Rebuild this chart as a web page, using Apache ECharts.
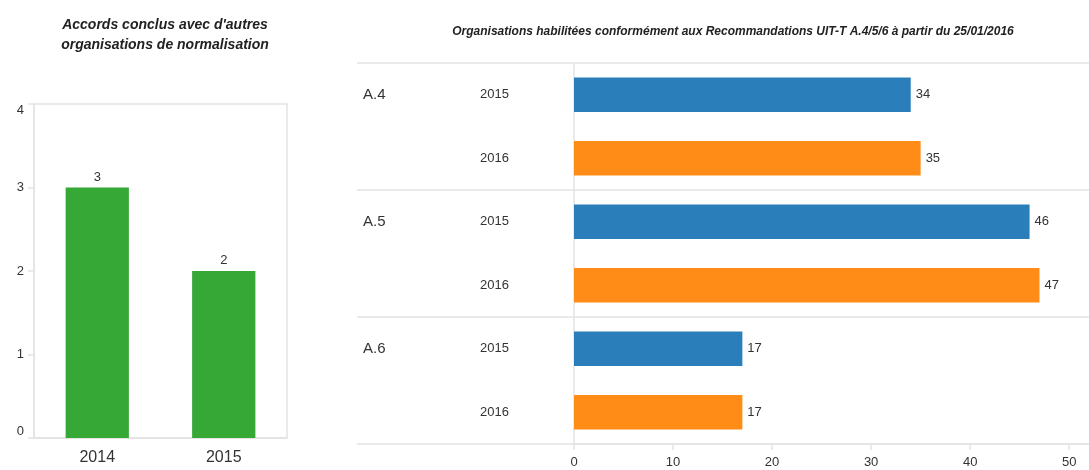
<!DOCTYPE html>
<html>
<head>
<meta charset="utf-8">
<script src="https://cdn.jsdelivr.net/npm/echarts@6/dist/echarts.min.js"></script>
<style>
  html, body { margin: 0; padding: 0; background: #fff; }
  #main { width: 1089px; height: 470px; }
</style>
</head>
<body>
<div id="main"></div>
<script>
// left chart data
var accordYears = ['2014', '2015'];
var accordValues = [3, 2];

// right chart data
var groups = ['A.4', 'A.5', 'A.6'];
var years = ['2015', '2016'];
var orgValues = [34, 35, 46, 47, 17, 17];   // A.4 2015, A.4 2016, A.5 2015, ...
var xTicks = [0, 10, 20, 30, 40, 50];

var yearColors = ['#2a7fba', '#ff8c17'];
var lineColor = '#e3e3e3';
var textColor = '#333';
var font = 'Liberation Sans';

// one row per group/year pair
var rowKeys = [];
groups.forEach(function (g) {
  years.forEach(function (y) { rowKeys.push(g + '|' + y); });
});

var myChart = echarts.init(document.getElementById('main'));

var option = {
  animation: false,
  textStyle: { fontFamily: font },
  title: [{
    text: "Accords conclus avec d'autres\norganisations de normalisation",
    left: 160, top: 10, textAlign: 'center',
    textStyle: { fontSize: 14, fontWeight: 'bold', fontStyle: 'italic', color: '#222', lineHeight: 20, fontFamily: font }
  }, {
    text: 'Organisations habilitées conformément aux Recommandations UIT-T A.4/5/6 à partir du 25/01/2016',
    left: 728, top: 21, textAlign: 'center',
    textStyle: { fontSize: 12, fontWeight: 'bold', fontStyle: 'italic', color: '#222', fontFamily: font }
  }],
  grid: [
    { left: 34, right: 802, top: 104, bottom: 32, show: true, borderColor: lineColor, borderWidth: 1.5 },
    { left: 574, right: -2, top: 63, bottom: 26 }
  ],
  xAxis: [{
    gridIndex: 0,
    type: 'category',
    data: accordYears,
    axisLine: { lineStyle: { color: lineColor, width: 1.5 } },
    axisTick: { length: 6, lineStyle: { color: lineColor, width: 1.5 } },
    axisLabel: { fontSize: 16, color: textColor, margin: 12 }
  }, {
    gridIndex: 1,
    type: 'value',
    min: 0,
    max: 52,
    interval: 10,
    splitLine: { show: false },
    axisLine: { show: true, lineStyle: { color: lineColor, width: 1.5 } },
    axisTick: { show: true, length: 6, customValues: xTicks, lineStyle: { color: lineColor, width: 1.5 } },
    axisLabel: { fontSize: 13, color: textColor, margin: 12, customValues: xTicks }
  }],
  yAxis: [{
    gridIndex: 0,
    type: 'value',
    min: 0, max: 4, interval: 1,
    splitLine: { show: false },
    axisLine: { show: true, lineStyle: { color: lineColor, width: 1.5 } },
    axisTick: { show: true, length: 6, lineStyle: { color: lineColor, width: 1.5 } },
    axisLabel: { fontSize: 13, color: textColor, margin: 10, verticalAlignMinLabel: 'bottom', verticalAlignMaxLabel: 'top' }
  }, {
    gridIndex: 1,
    type: 'category',
    position: 'left',
    inverse: true,
    data: rowKeys,
    axisLine: { show: false },
    axisTick: { show: false },
    axisLabel: {
      fontSize: 13, color: textColor, margin: 65,
      formatter: function (v) { return v.split('|')[1]; }
    }
  }, {
    gridIndex: 1,
    type: 'category',
    position: 'left',
    inverse: true,
    data: groups,
    axisLine: { show: true, lineStyle: { color: lineColor, width: 1.5 } },
    axisTick: { show: true, length: 217, lineStyle: { color: lineColor, width: 1.5 } },
    splitLine: { show: true, lineStyle: { color: lineColor, width: 1.5 } },
    axisLabel: {
      fontSize: 15, color: textColor, margin: 211, align: 'left', lineHeight: 63,
      // second empty line pushes the name up to the first row of the group
      formatter: function (v) { return v + '\n '; }
    }
  }],
  series: [{
    type: 'bar',
    xAxisIndex: 0, yAxisIndex: 0,
    data: accordValues,
    barWidth: '50%',
    itemStyle: { color: '#35a836' },
    label: { show: true, position: 'top', distance: 4, fontSize: 13, color: textColor }
  }, {
    type: 'bar',
    xAxisIndex: 1, yAxisIndex: 1,
    data: orgValues,
    barWidth: '54%',
    itemStyle: {
      color: function (p) { return yearColors[p.dataIndex % years.length]; }
    },
    label: { show: true, position: 'right', distance: 5, fontSize: 13, color: textColor }
  }]
};

myChart.setOption(option);
</script>
</body>
</html>
